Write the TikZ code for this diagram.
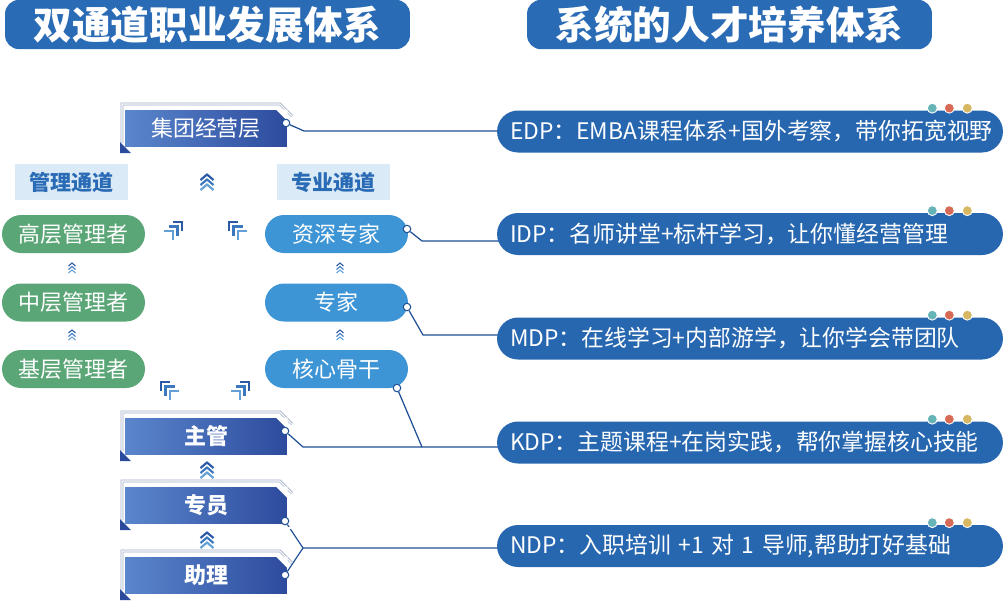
\documentclass[tikz,border=0pt]{standalone}
\usepackage{fontspec}
\setmainfont{Noto Sans CJK SC}
\usetikzlibrary{backgrounds}

\definecolor{headBlue}{HTML}{2A6BB5}
\definecolor{tierL}{HTML}{5A86CC}
\definecolor{tierR}{HTML}{2D4B9D}
\definecolor{frameC}{HTML}{9FAEC6}
\definecolor{laneFill}{HTML}{DBEAF7}
\definecolor{mgrGreen}{HTML}{5AA676}
\definecolor{proBlue}{HTML}{3E95D6}
\definecolor{progBlue}{HTML}{2767B0}
\definecolor{wireC}{HTML}{1E4F96}
\definecolor{chevA}{HTML}{2B59A6}
\definecolor{chevB}{HTML}{3C78C0}
\definecolor{chevC}{HTML}{63A0D8}
\definecolor{dotTeal}{HTML}{67B4B8}
\definecolor{dotRed}{HTML}{D66A55}
\definecolor{dotGold}{HTML}{D7B862}

\begin{document}
\begin{tikzpicture}[
    x=0.02cm, y=-0.02cm,
    headpill/.style={
        fill=headBlue,
        rounded corners=0.28cm,
        minimum width=8.1cm,
        minimum height=0.9cm,
        text=white,
        font=\fontsize{22}{25}\selectfont\bfseries
    },
    tierbox/.style={
        rectangle,
        inner sep=0pt,
        outer sep=0pt,
        minimum width=3.24cm,
        minimum height=0.72cm,
        left color=tierL,
        right color=tierR,
        text=white,
        font=\fontsize{12.5}{15}\selectfont
    },
    lane/.style={
        fill=laneFill,
        minimum width=2.26cm,
        minimum height=0.72cm,
        text=headBlue,
        font=\fontsize{12}{14}\selectfont\bfseries
    },
    mgr/.style={
        fill=mgrGreen,
        rounded corners=0.38cm,
        minimum width=2.86cm,
        minimum height=0.76cm,
        text=white,
        font=\fontsize{12.5}{15}\selectfont
    },
    pro/.style={
        mgr,
        fill=proBlue
    },
    prog/.style={
        fill=progBlue,
        rounded corners=0.42cm,
        minimum height=0.84cm,
        text width=9.6cm,
        inner xsep=0.26cm,
        align=left,
        text=white,
        font=\fontsize{13}{15}\selectfont
    },
    joint/.style={
        circle,
        draw=wireC,
        fill=white,
        line width=0.6pt,
        minimum size=0.15cm,
        inner sep=0pt
    },
    wire/.style={draw=wireC, line width=0.7pt},
    frameline/.style={draw=frameC, line width=0.45pt, double=white, double distance=0.6pt},
    upchev/.pic={
        \draw[chevA, line width=1.2pt] (-6.5,-2) -- (0,-7.5) -- (6.5,-2);
        \draw[chevB, line width=1.2pt] (-6.5,3) -- (0,-2.5) -- (6.5,3);
        \draw[chevC, line width=1.2pt] (-6.5,8) -- (0,2.5) -- (6.5,8);
    },
    tinychev/.pic={
        \draw[chevA, line width=0.6pt] (-3.5,-2) -- (0,-5) -- (3.5,-2);
        \draw[chevB, line width=0.6pt] (-3.5,1.5) -- (0,-1.5) -- (3.5,1.5);
        \draw[chevC, line width=0.6pt] (-3.5,5) -- (0,2) -- (3.5,5);
    },
    cornerchev/.pic={
        \draw[chevA, line width=1.3pt] (0,-9) -- (9,-9) -- (9,0);
        \draw[chevB, line width=1.3pt] (-4.5,-4.5) -- (4.5,-4.5) -- (4.5,4.5);
        \draw[chevC, line width=1.3pt] (-9,0) -- (0,0) -- (0,9);
    },
    tierframe/.pic={
        \draw[frameline] (-84,15) -- (-84,-24) -- (74,-24) -- (86,-12);
        \draw[frameline] (-76,23) -- (86,23);
        \fill[tierR] (-86,14) -- (-75,25) -- (-86,25) -- cycle;
        \fill[white] (70,-18.5) -- (81.5,-18.5) -- (81.5,-7) -- cycle;
    },
    threedots/.pic={
        \filldraw[fill=dotTeal, draw=white, line width=0.5pt] (0,0) circle (0.1cm);
        \filldraw[fill=dotRed, draw=white, line width=0.5pt] (17,0) circle (0.1cm);
        \filldraw[fill=dotGold, draw=white, line width=0.5pt] (35,0) circle (0.1cm);
    }
]
    \useasboundingbox (0,0) rectangle (1005,600);
    \begin{scope}[on background layer]
        \fill[white] (0,0) rectangle (1005,600);
    \end{scope}

    % --- Headers ---
    \node[headpill] (hd-left) at (207.5,24.5) {双通道职业发展体系};
    \node[headpill] (hd-right) at (729.5,24.5) {系统的人才培养体系};

    % --- Tier boxes ---
    \node[tierbox] (jituan) at (206,128) {集团经营层};
    \pic at (jituan) {tierframe};
    \node[tierbox] (zhuguan) at (206,436) {\bfseries 主管};
    \pic at (zhuguan) {tierframe};
    \node[tierbox] (zhuanyuan) at (206,505) {\bfseries 专员};
    \pic at (zhuanyuan) {tierframe};
    \node[tierbox] (zhuli) at (206,575) {\bfseries 助理};
    \pic at (zhuli) {tierframe};

    % --- Lanes ---
    \node[lane] (glane) at (71.5,182) {管理通道};
    \node[lane] (zlane) at (333.5,182) {专业通道};

    % --- Management lane ---
    \node[mgr] (gaoceng) at (73.5,234) {高层管理者};
    \node[mgr] (zhongceng) at (73.5,302.5) {中层管理者};
    \node[mgr] (jiceng) at (73.5,369) {基层管理者};

    % --- Professional lane ---
    \node[pro] (zishen) at (336.5,234) {资深专家};
    \node[pro] (zhuanjia) at (336.5,302.5) {专家};
    \node[pro] (hexin) at (336.5,369) {核心骨干};

    % --- Chevrons ---
    \pic at (207,182) {upchev};
    \pic at (207,470) {upchev};
    \pic at (207,540) {upchev};
    \pic at (72,268) {tinychev};
    \pic at (72,335) {tinychev};
    \pic at (340,268) {tinychev};
    \pic at (340,335) {tinychev};
    \pic at (173,231) {cornerchev};
    \pic[xscale=-1] at (238,231) {cornerchev};
    \pic[xscale=-1] at (170,391) {cornerchev};
    \pic at (240,391) {cornerchev};

    % --- Programmes ---
    \node[prog] (edp) at (750,131.5) {EDP：EMBA课程体系+国外考察，带你拓宽视野};
    \node[prog] (idp) at (750,234) {IDP：名师讲堂+标杆学习，让你懂经营管理};
    \node[prog] (mdp) at (750,338.5) {MDP：在线学习+内部游学，让你学会带团队};
    \node[prog] (kdp) at (750,442.5) {KDP：主题课程+在岗实践，帮你掌握核心技能};
    \node[prog] (ndp) at (750,546) {NDP：入职培训 +1 对 1 导师,帮助打好基础};
    \pic at ([shift={(-71,-2)}]edp.north east) {threedots};
    \pic at ([shift={(-71,-2)}]idp.north east) {threedots};
    \pic at ([shift={(-71,-2)}]mdp.north east) {threedots};
    \pic at ([shift={(-71,-2)}]kdp.north east) {threedots};
    \pic at ([shift={(-71,-2)}]ndp.north east) {threedots};

    % --- Joints ---
    \node[joint] (jituan-pt) at (286,123) {};
    \node[joint] (zhuguan-pt) at (285,431) {};
    \node[joint] (zhuanyuan-pt) at (285,521) {};
    \node[joint] (zhuli-pt) at (285,575) {};
    \node[joint] (zishen-pt) at (407,229) {};
    \node[joint] (zhuanjia-pt) at (407,307) {};
    \node[joint] (hexin-pt) at (397,388) {};

    \coordinate (jituan-bend) at (304,131);
    \coordinate (zishen-bend) at (422,241);
    \coordinate (zhuanjia-bend) at (423,335);
    \coordinate (zhuguan-bend) at (303,447);
    \coordinate (hexin-bend) at (422,447);
    \coordinate (ndp-bend) at (303,548);

    % --- Connectors ---
    \begin{scope}[on background layer]
        \draw[wire] (jituan-pt) -- (jituan-bend) -- (jituan-bend -| edp.center);
        \draw[wire] (zishen-pt) -- (zishen-bend) -- (zishen-bend -| idp.center);
        \draw[wire] (zhuanjia-pt) -- (zhuanjia-bend) -- (zhuanjia-bend -| mdp.center);
        \draw[wire] (zhuguan-pt) -- (zhuguan-bend) -- (zhuguan-bend -| kdp.center);
        \draw[wire] (hexin-pt) -- (hexin-bend);
        \draw[wire] (zhuanyuan-pt) -- (ndp-bend);
        \draw[wire] (zhuli-pt) -- (ndp-bend) -- (ndp-bend -| ndp.center);
    \end{scope}
\end{tikzpicture}
\end{document}
